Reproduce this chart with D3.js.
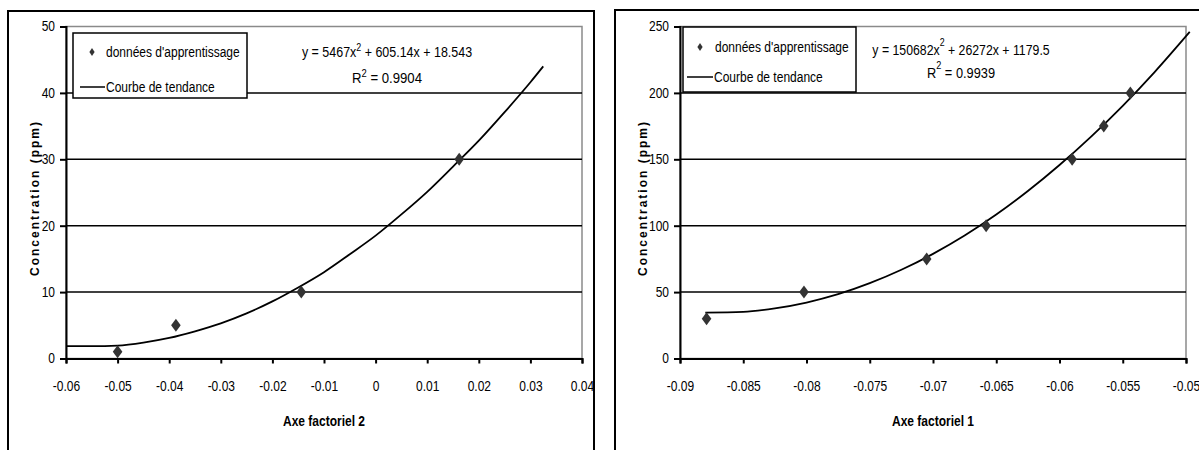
<!DOCTYPE html>
<html><head><meta charset="utf-8">
<script src="https://cdn.jsdelivr.net/npm/d3@7"></script>
<style>html,body{margin:0;padding:0;background:#fff;overflow:hidden} svg{display:block;font-family:"Liberation Sans",Arial,sans-serif}</style>
</head><body><svg id="c" width="1199" height="450"></svg>
<script>
// ---------- data: left chart (Axe factoriel 2) ----------
const leftXTicks = [-0.06,-0.05,-0.04,-0.03,-0.02,-0.01,0,0.01,0.02,0.03,0.04];
const leftXTickLabels = ["-0.06","-0.05","-0.04","-0.03","-0.02","-0.01","0","0.01","0.02","0.03","0.04"];
const leftYTicks = [0,10,20,30,40,50];
const leftYTickLabels = ["0","10","20","30","40","50"];
const leftPointsX = [-0.05,-0.0387,-0.0144,0.0162];
const leftPointsY = [1,5,10,30];
const leftTrendX = [-0.06,-0.055,-0.05,-0.045,-0.04,-0.035,-0.03,-0.025,-0.02,-0.015,-0.01,-0.005,0,0.005,0.01,0.015,0.02,0.025,0.03,0.0325];
const leftTrendY = [1.85,1.85,1.95,2.4,3.1,4.1,5.3,6.8,8.6,10.7,13.0,15.7,18.5,21.7,25.1,28.9,32.8,37.1,41.6,44.0];
const leftEquation = ["y = 5467x","2"," + 605.14x + 18.543"];
const leftR2 = ["R","2"," = 0.9904"];
const leftXTitle = "Axe factoriel 2";

// ---------- data: right chart (Axe factoriel 1) ----------
const rightXTicks = [-0.09,-0.085,-0.08,-0.075,-0.07,-0.065,-0.06,-0.055,-0.05];
const rightXTickLabels = ["-0.09","-0.085","-0.08","-0.075","-0.07","-0.065","-0.06","-0.055","-0.05"];
const rightYTicks = [0,50,100,150,200,250];
const rightYTickLabels = ["0","50","100","150","200","250"];
const rightPointsX = [-0.0879,-0.0802,-0.0705,-0.0658,-0.059,-0.0565,-0.0544];
const rightPointsY = [30,50,75,100,150,175,200];
const rightTrendX = [-0.088,-0.085,-0.0825,-0.08,-0.0775,-0.075,-0.0725,-0.07,-0.0675,-0.065,-0.0625,-0.06,-0.0575,-0.055,-0.0525,-0.0497];
const rightTrendY = [34.6,35.1,37.7,42.1,48.4,56.7,66.8,78.8,92.6,108.4,126.1,145.7,167.1,190.3,215.5,246.0];
const rightEquation = ["y = 150682x","2"," + 26272x + 1179.5"];
const rightR2 = ["R","2"," = 0.9939"];
const rightXTitle = "Axe factoriel 1";

const yTitle = "Concentration (ppm)";
const legendPoints = "données d'apprentissage";
const legendLine = "Courbe de tendance";

const svg = d3.select("#c");

// draw text tall and narrow (like the narrow font of the original):
// keep the width of 12px text but use taller glyphs
function narrow(sel, tall) {
  sel.each(function () {
    const t = d3.select(this);
    const w = this.getComputedTextLength();
    t.attr("font-size", tall).attr("textLength", w).attr("lengthAdjust", "spacingAndGlyphs");
  });
}

function drawChart(d, L) {
  const g = svg.append("g");
  g.append("rect").attr("x", L.bx).attr("y", L.by).attr("width", L.bw).attr("height", L.bh)
    .attr("fill", "#fff").attr("stroke", "#000").attr("stroke-width", 2);

  const x = d3.scaleLinear().domain(d3.extent(d.xTicks)).range([L.x0, L.x1]);
  const y = d3.scaleLinear().domain(d3.extent(d.yTicks)).range([L.y1, L.y0]);

  g.append("rect").attr("x", L.x0).attr("y", L.y0).attr("width", L.x1 - L.x0).attr("height", L.y1 - L.y0)
    .attr("fill", "none").attr("stroke", "#8a8a8a").attr("stroke-width", 1.5);

  g.selectAll(".grid").data(d.yTicks.slice(1, -1)).join("line")
    .attr("x1", L.x0).attr("x2", L.x1).attr("y1", v => y(v)).attr("y2", v => y(v))
    .attr("stroke", "#000").attr("stroke-width", 1.5);

  const xa = g.append("g").attr("transform", `translate(0,${L.y1})`)
    .call(d3.axisBottom(x).tickValues(d.xTicks).tickFormat((v, i) => d.xTickLabels[i]).tickSize(5).tickPadding(18));
  xa.select(".domain").attr("stroke-width", 2);
  xa.selectAll(".tick line").attr("stroke-width", 2);
  xa.selectAll("text").attr("font-size", 12).attr("font-family", "Liberation Sans, Arial, sans-serif").attr("fill", "#000");
  narrow(xa.selectAll("text"), 14);

  const ya = g.append("g").attr("transform", `translate(${L.x0},0)`)
    .call(d3.axisLeft(y).tickValues(d.yTicks).tickFormat((v, i) => d.yTickLabels[i]).tickSize(6).tickPadding(5));
  ya.select(".domain").attr("stroke-width", 2);
  ya.selectAll(".tick line").attr("stroke-width", 2);
  ya.selectAll("text").attr("font-size", 12).attr("font-family", "Liberation Sans, Arial, sans-serif").attr("fill", "#000");
  narrow(ya.selectAll("text"), 14);

  const xt = g.append("text").attr("x", (L.x0 + L.x1) / 2).attr("y", L.xTitleY).attr("text-anchor", "middle")
    .attr("font-size", 12).attr("font-weight", "bold").text(d.xTitle);
  narrow(xt, 14);
  g.append("text").attr("transform", `translate(${L.yTitleX},${L.yTitleY}) rotate(-90)`)
    .attr("text-anchor", "middle").attr("dominant-baseline", "central")
    .attr("font-size", 12).attr("font-weight", "bold").attr("letter-spacing", "2px").text(yTitle);

  const trend = d.trendX.map((v, i) => [v, d.trendY[i]]);
  g.append("path").datum(trend)
    .attr("d", d3.line().x(p => x(p[0])).y(p => y(p[1])).curve(d3.curveMonotoneX))
    .attr("fill", "none").attr("stroke", "#000").attr("stroke-width", 1.8);

  const pts = d.ptsX.map((v, i) => [v, d.ptsY[i]]);
  g.selectAll(".pt").data(pts).join("path")
    .attr("transform", p => `translate(${x(p[0])},${y(p[1])})`)
    .attr("d", "M0,-6.5L4.8,0L0,6.5L-4.8,0Z").attr("fill", "#333");

  g.append("rect").attr("x", L.lx).attr("y", L.ly).attr("width", L.lw).attr("height", L.lh)
    .attr("fill", "#fff").attr("stroke", "#000").attr("stroke-width", 1.5);
  g.append("path").attr("transform", `translate(${L.lmx},${L.lr1})`)
    .attr("d", "M0,-4L2.6,0L0,4L-2.6,0Z").attr("fill", "#333");
  const lt1 = g.append("text").attr("x", L.ltx).attr("y", L.lr1).attr("dominant-baseline", "central")
    .attr("font-size", 12).text(legendPoints);
  narrow(lt1, 14);
  g.append("line").attr("x1", L.ll0).attr("x2", L.ll1).attr("y1", L.lr2).attr("y2", L.lr2)
    .attr("stroke", "#000").attr("stroke-width", 1.5);
  const lt2 = g.append("text").attr("x", L.ll1 + 1).attr("y", L.lr2).attr("dominant-baseline", "central")
    .attr("font-size", 12).text(legendLine);
  narrow(lt2, 14);

  function eq(parts, yb) {
    const t = g.append("text").attr("x", L.ecx).attr("y", yb).attr("text-anchor", "middle").attr("font-size", 12);
    t.append("tspan").text(parts[0]);
    const s = t.append("tspan").attr("dy", -L.sup).attr("font-size", 9).text(parts[1]);
    t.append("tspan").attr("dy", L.sup).text(parts[2]);
    const w = t.node().getComputedTextLength() + L.extra;
    t.attr("font-size", 14).attr("textLength", w).attr("lengthAdjust", "spacingAndGlyphs");
    s.attr("font-size", 10);
  }
  eq(d.eq, L.e1);
  eq(d.r2, L.e2);
}

drawChart(
  {xTicks: leftXTicks, xTickLabels: leftXTickLabels, yTicks: leftYTicks, yTickLabels: leftYTickLabels,
   ptsX: leftPointsX, ptsY: leftPointsY, trendX: leftTrendX, trendY: leftTrendY,
   eq: leftEquation, r2: leftR2, xTitle: leftXTitle},
  {bx: 8, by: 11, bw: 586, bh: 470, x0: 66, x1: 582, y0: 26.5, y1: 358.5,
   xTitleY: 426, yTitleX: 35, yTitleY: 198,
   lx: 73, ly: 33, lw: 174, lh: 65, lmx: 92, lr1: 52, lr2: 87, ltx: 106, ll0: 80, ll1: 105,
   ecx: 387, e1: 57, e2: 83, sup: 6, extra: 6});

drawChart(
  {xTicks: rightXTicks, xTickLabels: rightXTickLabels, yTicks: rightYTicks, yTickLabels: rightYTickLabels,
   ptsX: rightPointsX, ptsY: rightPointsY, trendX: rightTrendX, trendY: rightTrendY,
   eq: rightEquation, r2: rightR2, xTitle: rightXTitle},
  {bx: 615, by: 10, bw: 620, bh: 470, x0: 680, x1: 1186, y0: 26.5, y1: 358.5,
   xTitleY: 426, yTitleX: 643, yTitleY: 198,
   lx: 683, ly: 27, lw: 173, lh: 65, lmx: 700, lr1: 47, lr2: 77, ltx: 715, ll0: 687, ll1: 713,
   ecx: 961, e1: 55, e2: 78, sup: 9, extra: 4});
</script></body></html>
